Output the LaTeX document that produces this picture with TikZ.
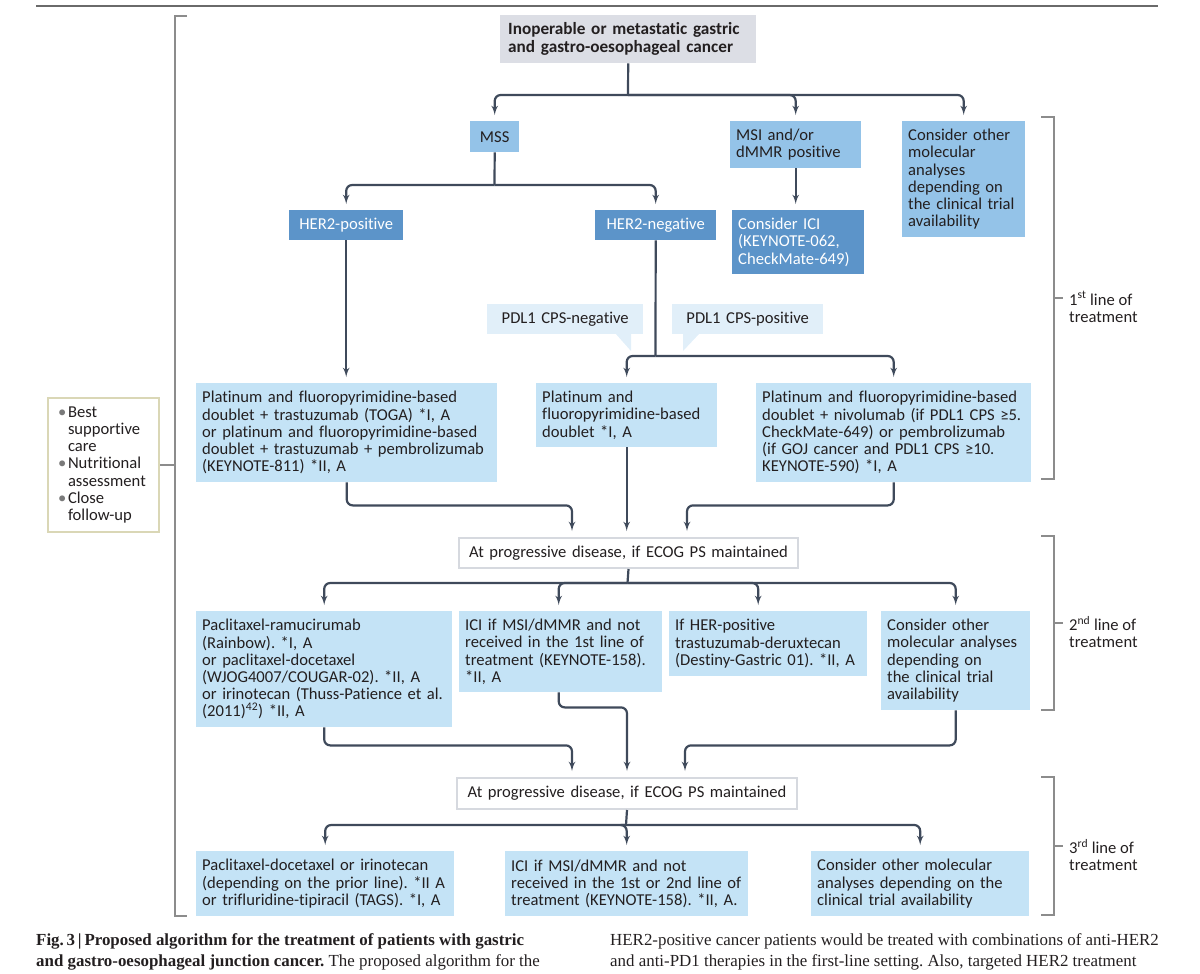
\documentclass[tikz,border=0pt]{standalone}
\usepackage{fontspec}
\usepackage{tikz}
\usetikzlibrary{arrows}
\usetikzlibrary{positioning}
\setmainfont{Carlito}[Ligatures=NoCommon]
\newfontfamily\capfont{Liberation Serif}
\newcommand{\flowtext}{\fontsize{16.6}{17.2}\selectfont}
\frenchspacing
\definecolor{mline}{HTML}{3F4A5B}
\definecolor{mtext}{HTML}{231F20}
\definecolor{mlight}{HTML}{C4E3F6}
\definecolor{mmid}{HTML}{94C3E8}
\definecolor{mdark}{HTML}{5C94C9}
\definecolor{mpale}{HTML}{E1EFF9}
\definecolor{mgrey}{HTML}{DCDEE5}
\definecolor{mframe}{HTML}{D6D9DF}
\definecolor{mcare}{HTML}{DAD7B6}
\definecolor{mbrk}{HTML}{8C8C8C}
\definecolor{mrule}{HTML}{6A6A6A}
\definecolor{mdot}{HTML}{7A7A7A}
\tikzset{box/.style = {anchor=north west, align=left, inner xsep=6pt, inner ysep=0pt,
                       font=\flowtext, text=mtext}}
\tikzset{lightbox/.style = {box, fill=mlight}}
\tikzset{midbox/.style = {box, fill=mmid}}
\tikzset{darkbox/.style = {box, fill=mdark, text=white}}
\tikzset{palebox/.style = {box, fill=mpale}}
\tikzset{greybox/.style = {box, fill=mgrey}}
\tikzset{progbox/.style = {box, fill=white, draw=mframe, line width=2pt}}
\tikzset{carebox/.style = {box, inner xsep=10pt, fill=white, draw=mcare, line width=2pt}}
\tikzset{wire/.style = {draw=mline, line width=2.2pt}}
\tikzset{arr/.style = {wire, ->, >=latex', rounded corners=6pt, shorten >=6pt}}
\tikzset{brk/.style = {draw=mbrk, line width=1.2pt}}
\tikzset{lbl/.style = {anchor=west, align=left, inner sep=0pt, font=\flowtext, text=mtext}}
\tikzset{captext/.style = {anchor=base west, inner sep=0pt, font=\capfont\fontsize{16.9}{20}\selectfont, text=mtext}}
\newcommand{\carebul}{\makebox[10pt][l]{\textcolor{mdot}{\textbullet}}}
\newcommand{\careind}{\hspace*{10pt}}

\begin{document}
\begin{tikzpicture}[x=1pt, y=-1pt]
    \useasboundingbox (0,0) rectangle (1200,974);
    \draw [mrule, line width=1.5pt] (36,6) -- (1158,6);

    \node [greybox, inner xsep=8pt, text width=240pt, minimum height=48pt,
           font=\fontsize{17.2}{17.6}\selectfont\bfseries] (top) at (500,15)
        {Inoperable or metastatic gastric\\and gastro-oesophageal cancer};

    \node [midbox, align=center, text width=37pt, minimum height=31pt] (mss) at (470,121) {MSS};
    \node [midbox, text width=119pt, minimum height=47pt] (msi) at (730,121) {MSI and/or\\dMMR positive};
    \node [midbox, text width=111pt, minimum height=116pt] (oth1) at (902,121)
        {Consider other\\molecular\\analyses\\depending on\\the clinical trial\\availability};

    \node [darkbox, align=center, text width=102pt, minimum height=30pt] (herpos) at (289,210) {HER2-positive};
    \node [darkbox, align=center, text width=109pt, minimum height=30pt] (herneg) at (595,210) {HER2-negative};
    \node [darkbox, text width=120pt, minimum height=64pt] (ici1) at (732,210)
        {Consider ICI\\(KEYNOTE-062,\\CheckMate-649)};

    \node [palebox, align=center, text width=144pt, minimum height=30pt] (cpsneg) at (487,304) {PDL1 CPS-negative};
    \node [palebox, align=center, text width=139pt, minimum height=30pt] (cpspos) at (672,304) {PDL1 CPS-positive};
    \fill [mpale] (615,333) -- (631,333) -- (631,351) -- cycle;
    \fill [mpale] (700,333) -- (683,333) -- (683,351) -- cycle;

    \node [lightbox, text width=289pt, minimum height=99pt] (toga) at (196,383)
        {Platinum and fluoropyrimidine-based\\doublet + trastuzumab (TOGA) *I, A\\or platinum and fluoropyrimidine-based\\doublet + trastuzumab + pembrolizumab\\(KEYNOTE-811) *II, A};
    \node [lightbox, text width=169pt, minimum height=64pt] (dbl) at (536,383)
        {Platinum and\\fluoropyrimidine-based\\doublet *I, A};
    \node [lightbox, text width=263pt, minimum height=99pt] (nivo) at (756,383)
        {Platinum and fluoropyrimidine-based\\doublet + nivolumab (if PDL1 CPS ≥5.\\CheckMate-649) or pembrolizumab\\(if GOJ cancer and PDL1 CPS ≥10.\\KEYNOTE-590) *I, A};

    \node [progbox, align=center, text width=327pt, minimum height=30pt] (prog1) at (458,537)
        {At progressive disease, if ECOG PS maintained};

    \node [lightbox, text width=244pt, minimum height=116pt] (pac) at (196,611)
        {Paclitaxel-ramucirumab\\(Rainbow). *I, A\\or paclitaxel-docetaxel\\(WJOG4007/COUGAR-02). *II, A\\or irinotecan (Thuss-Patience et al.\\(2011)\textsuperscript{42}) *II, A};
    \node [lightbox, text width=191pt, minimum height=81pt] (ici2) at (459,611)
        {ICI if MSI/dMMR and not\\received in the 1st line of\\treatment (KEYNOTE-158).\\{*}II, A};
    \node [lightbox, text width=186pt, minimum height=65pt] (herx) at (669,611)
        {If HER-positive\\trastuzumab-deruxtecan\\(Destiny-Gastric 01). *II, A};
    \node [lightbox, text width=137pt, minimum height=99pt] (oth2) at (881,611)
        {Consider other\\molecular analyses\\depending on\\the clinical trial\\availability};

    \node [progbox, align=center, text width=328pt, minimum height=31pt] (prog2) at (456,777)
        {At progressive disease, if ECOG PS maintained};

    \node [lightbox, text width=246pt, minimum height=65pt] (pac3) at (196,851)
        {Paclitaxel-docetaxel or irinotecan\\(depending on the prior line). *II A\\or trifluridine-tipiracil (TAGS). *I, A};
    \node [lightbox, text width=231pt, minimum height=65pt] (ici3) at (505,851)
        {ICI if MSI/dMMR and not\\received in the 1st or 2nd line of\\treatment (KEYNOTE-158). *II, A.};
    \node [lightbox, text width=206pt, minimum height=65pt] (oth3) at (811,851)
        {Consider other molecular\\analyses depending on the\\clinical trial availability};

    \node [carebox, text width=91pt, minimum height=134pt] (care) at (47,397)
        {\carebul Best\\\careind supportive\\\careind care\\\carebul Nutritional\\\careind assessment\\\carebul Close\\\careind follow-up};

    \coordinate (j0) at (628,95);
    \draw [wire] (top.south) -- (j0);
    \draw [arr] (j0) -| (mss.north);
    \draw [arr] (j0) -| (msi.north);
    \draw [arr] (j0) -| (oth1.north);

    \coordinate (j1) at (494.5,185);
    \draw [wire] (mss.south) -- (j1);
    \draw [arr] (j1) -| (herpos.north);
    \draw [arr] (j1) -| (herneg.north);
    \draw [arr] (msi.south) -- (msi.south |- ici1.north);

    \draw [arr] (herpos.south) -- (herpos.south |- toga.north);
    \coordinate (j2) at (655.5,356);
    \draw [wire] (herneg.south) -- (j2);
    \draw [arr] (j2) -| (dbl.north);
    \draw [arr] (j2) -| (nivo.north);

    \draw [arr] (toga.south) -- ++(0,23) -| ([xshift=-56.5pt]prog1.north);
    \draw [arr] (dbl.south) -- (dbl.south |- prog1.north);
    \draw [arr] (nivo.south) -- ++(0,23) -| ([xshift=58.5pt]prog1.north);

    \coordinate (j3) at (627.5,583);
    \draw [wire] (prog1.south) -- (j3);
    \draw [arr] (j3) -| (pac.north);
    \draw [arr] (j3) -| ([xshift=-2pt]ici2.north);
    \draw [arr] (j3) -| ([xshift=-10pt]herx.north);
    \draw [arr] (j3) -| (oth2.north);

    \draw [arr] (pac.south) -- ++(0,18) -| ([xshift=-55pt]prog2.north);
    \draw [arr] ([xshift=-2pt]ici2.south) -- ++(0,15) -| (prog2.north);
    \draw [arr] (oth2.south) -- ++(0,35) -| ([xshift=58pt]prog2.north);

    \coordinate (j4) at (626,825);
    \draw [wire] (prog2.south) -- (j4);
    \draw [arr] (j4) -| (pac3.north);
    \draw [arr] (j4) -| (ici3.north);
    \draw [arr] (j4) -| (oth3.north);

    \coordinate (lbr) at (175,0);
    \draw [brk] (187,16) -- (175,16) -- (175,916) -- (187,916);
    \draw [brk] (care.east) -- (care.east -| lbr);

    \draw [brk] (1041,117) -- (1054,117) -- (1054,479) -- (1041,479);
    \draw [brk] (1054,298) -- (1063,298);
    \draw [brk] (1041,536) -- (1054,536) -- (1054,710) -- (1041,710);
    \draw [brk] (1054,623) -- (1063,623);
    \draw [brk] (1041,777) -- (1054,777) -- (1054,915) -- (1041,915);
    \draw [brk] (1054,846) -- (1063,846);
    \node [lbl] (line1) at (1069,307) {1\textsuperscript{st} line of\\treatment};
    \node [lbl] (line2) at (1069,632) {2\textsuperscript{nd} line of\\treatment};
    \node [lbl] (line3) at (1069,855) {3\textsuperscript{rd} line of\\treatment};

    \node [captext] (cap1) at (36,945) {\bfseries Fig.\,3\,|\,Proposed algorithm for the treatment of patients with gastric};
    \node [captext] (cap2) at (36,966) {\textbf{and gastro-oesophageal junction cancer.} The proposed algorithm for the};
    \node [captext] (cap3) at (610,945) {HER2-positive cancer patients would be treated with combinations of anti-HER2};
    \node [captext] (cap4) at (610,966) {and anti-PD1 therapies in the first-line setting. Also, targeted HER2 treatment};
\end{tikzpicture}
\end{document}
